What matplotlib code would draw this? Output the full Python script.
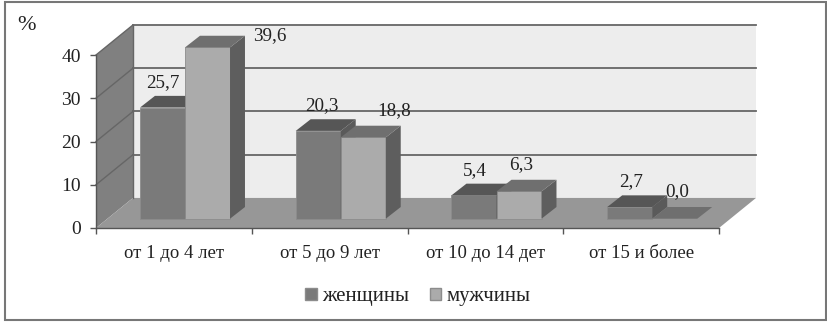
import numpy as np
import matplotlib
matplotlib.use('Agg')
import matplotlib.pyplot as plt
from matplotlib.patches import Patch, Rectangle

plt.rcParams['font.family'] = ['Liberation Serif', 'DejaVu Serif']

categories = ['от 1 до 4 лет', 'от 5 до 9 лет', 'от 10 до 14 дет', 'от 15 и более']
women = [25.7, 20.3, 5.4, 2.7]
men = [39.6, 18.8, 6.3, 0.0]
women_labels = ['25,7', '20,3', '5,4', '2,7']
men_labels = ['39,6', '18,8', '6,3', '0,0']
yticks = [0, 10, 20, 30, 40]
series_names = ['женщины', 'мужчины']

W, H = 827, 323
# front plane of the chart, in pixels
left, right, y0, y40 = 96, 719, 228, 55

# 3d look, in data units
wall_dx, wall_dy = 0.2375, 6.95
bar_dx, bar_dy = 0.096, 2.7
bar_base = 2.15
bar_start, bar_w = 0.2825, 0.289

# label shifts in pixels from the front top centre of each bar
women_shift = [(0, 25), (4, 25), (1, 25), (1, 25)]
men_shift = [(62, 12), (31, 27), (2, 27), (2, 27)]

fig = plt.figure(figsize=(W/100, H/100), dpi=100, facecolor='white')
fig.add_artist(Rectangle((5/W, 1-320/H), 821/W, 318/H, transform=fig.transFigure,
                         fc='white', ec='#777777', lw=1.5, zorder=-1))
ax = fig.add_axes([left/W, 1-y0/H, (right-left)/W, (y0-y40)/H])
ax.set_xlim(0, 4)
ax.set_ylim(0, 40)
ax.patch.set_visible(False)


def poly(xs, ys, color, z, ec='none'):
    ax.fill(xs, ys, fc=color, ec=ec, lw=0.6, clip_on=False, zorder=z)


# walls and floor
top = yticks[-1]
poly([wall_dx, 4+wall_dx, 4+wall_dx, wall_dx], [wall_dy, wall_dy, top+wall_dy, top+wall_dy], '#ededed', 1)
poly([0, wall_dx, wall_dx, 0], [0, wall_dy, top+wall_dy, top], '#808080', 2)
poly([0, wall_dx, 4+wall_dx, 4], [0, wall_dy, wall_dy, 0], '#979797', 2)
for v in yticks[1:]:
    ax.plot([wall_dx, 4+wall_dx], [v+wall_dy, v+wall_dy], color='#666666', lw=1.3, clip_on=False, zorder=3)
    ax.plot([0, wall_dx], [v, v+wall_dy], color='#666666', lw=1.0, clip_on=False, zorder=3)
ax.plot([wall_dx, wall_dx], [wall_dy, top+wall_dy], color='#666666', lw=1.0, clip_on=False, zorder=3)


def bar3d(x, v, front, topc, side, z):
    b = bar_base
    t = b + v
    if v > 0:
        poly([x, x+bar_w, x+bar_w, x], [b, b, t, t], front, z, ec='#8c8c8c')
        poly([x+bar_w, x+bar_w+bar_dx, x+bar_w+bar_dx, x+bar_w], [b, b+bar_dy, t+bar_dy, t], side, z)
    poly([x, x+bar_dx, x+bar_w+bar_dx, x+bar_w], [t, t+bar_dy, t+bar_dy, t], topc, z)


for i in range(len(categories)):
    xa = i + bar_start
    xb = xa + bar_w
    bar3d(xa, women[i], '#7a7a7a', '#565656', '#5a5a5a', 4)
    bar3d(xb, men[i], '#ababab', '#6f6f6f', '#5e5e5e', 5)
    ax.annotate(women_labels[i], (xa+bar_w/2, bar_base+women[i]), xytext=women_shift[i],
                textcoords='offset pixels', ha='center', va='center', fontsize=13.8,
                color='#222222', zorder=6, annotation_clip=False)
    ax.annotate(men_labels[i], (xb+bar_w/2, bar_base+men[i]), xytext=men_shift[i],
                textcoords='offset pixels', ha='center', va='center', fontsize=13.8,
                color='#222222', zorder=6, annotation_clip=False)

# axes
for s in ['top', 'right']:
    ax.spines[s].set_visible(False)
for s in ['left', 'bottom']:
    ax.spines[s].set_color('#555555')
    ax.spines[s].set_linewidth(1.0)
    ax.spines[s].set_zorder(3)
ax.set_yticks(yticks)
ax.set_xticks(range(len(categories)+1))
ax.set_xticklabels([])
ax.set_xticks(np.arange(len(categories))+0.5, categories, minor=True)
ax.tick_params(axis='x', which='major', length=4.5, width=1, color='#555555')
ax.tick_params(axis='x', which='minor', length=0, pad=12, labelsize=13.5, labelcolor='#222222')
ax.tick_params(axis='y', length=4, width=1, color='#555555', pad=7, labelsize=14, labelcolor='#222222')

fig.text(26/W, 1-25/H, '%', ha='center', va='center', fontsize=16, color='#222222')

handles = [Patch(fc='#7a7a7a', ec='#8c8c8c'), Patch(fc='#ababab', ec='#8c8c8c')]
fig.legend(handles, series_names, loc='center', bbox_to_anchor=(418/W, 1-297/H), ncol=2, frameon=False,
           fontsize=15, handlelength=0.55, handleheight=0.55, handletextpad=0.25,
           columnspacing=1.0, labelcolor='#222222')

fig.savefig('out.png', dpi=100)
